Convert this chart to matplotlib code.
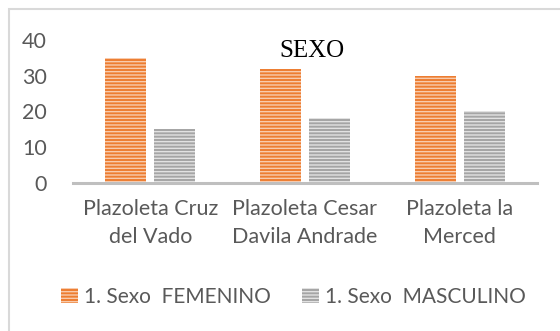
import matplotlib.pyplot as plt
from matplotlib.patches import Rectangle, Patch
import numpy as np

plt.rcParams['font.family'] = ['Lato', 'DejaVu Sans']
plt.rcParams['hatch.linewidth'] = 1.0

categories = ["Plazoleta Cruz\ndel Vado", "Plazoleta Cesar\nDavila Andrade", "Plazoleta la\nMerced"]
femenino = [35, 32, 30]
masculino = [15, 18, 20]
series_names = ["1. Sexo  FEMENINO", "1. Sexo  MASCULINO"]
yticks = [0, 10, 20, 30, 40]

orange = '#ED7D31'
orange_stripe = '#F8CBAD'
gray = '#A5A5A5'
gray_stripe = '#E2E2E2'
text_col = '#595959'
fs = 15.5

W, H = 560, 331
fig = plt.figure(figsize=(W / 100, H / 100), dpi=100)

# outer chart frame
fig.patches.append(Rectangle((9 / W, 0 - 0.05), 1.1, (H - 9) / H + 0.05,
                             transform=fig.transFigure, fill=False,
                             edgecolor='#D9D9D9', linewidth=1.5))

ax = fig.add_axes([73 / W, 1 - 182.7 / H, (537 - 73) / W, (182.7 - 40) / H])

x = np.arange(len(categories))
w = 0.265
off = 0.158
ax.bar(x - off, femenino, w, color=orange, edgecolor=orange_stripe,
       hatch='-----', linewidth=0)
ax.bar(x + off, masculino, w, color=gray, edgecolor=gray_stripe,
       hatch='-----', linewidth=0)

ax.set_xlim(-0.5, 2.5)
ax.set_ylim(0, 40)
ax.set_yticks(yticks)
ax.set_xticks(x)
ax.set_xticklabels(categories, fontsize=fs, color=text_col, linespacing=1.5)
for lbl in ax.get_xticklabels():
    lbl.set_multialignment('center')
ax.tick_params(axis='y', length=0, pad=19, labelsize=fs, labelcolor=text_col)
ax.tick_params(axis='x', length=0, pad=12)

for s in ['top', 'right', 'left']:
    ax.spines[s].set_visible(False)
ax.spines['bottom'].set_color('#BFBFBF')
ax.spines['bottom'].set_linewidth(2.2)

fig.text(312 / W, 1 - 51 / H, "SEXO", family='Liberation Serif', fontsize=18,
         ha='center', va='center', color='black')

handles = [Patch(facecolor=orange, edgecolor=orange_stripe, hatch='-----', linewidth=0),
           Patch(facecolor=gray, edgecolor=gray_stripe, hatch='-----', linewidth=0)]
fig.legend(handles, series_names, loc='center', bbox_to_anchor=(0.524, 1 - 297 / H),
           ncol=2, frameon=False, fontsize=15, labelcolor=text_col,
           handlelength=0.8, handleheight=0.7, handletextpad=0.3, columnspacing=1.5)

fig.savefig('out.png', dpi=100)
